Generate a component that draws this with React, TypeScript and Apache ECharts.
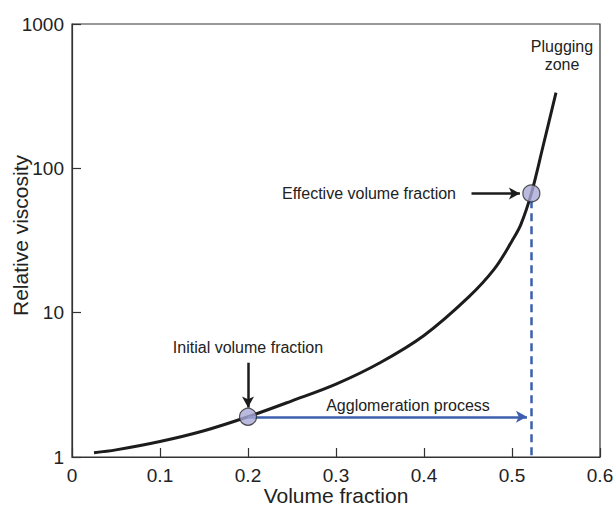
import React, { useEffect, useRef } from "react";
import * as echarts from "echarts";

// Viscosity curve: relative viscosity vs. volume fraction
const volumeFraction = [0.025, 0.05, 0.1, 0.15, 0.2, 0.25, 0.3, 0.35, 0.4, 0.45, 0.48, 0.5, 0.51, 0.522, 0.535, 0.55];
const relativeViscosity = [1.07, 1.12, 1.28, 1.52, 1.9, 2.45, 3.2, 4.5, 6.95, 12.7, 20.1, 31.4, 40.7, 67, 140, 335];

// Highlighted states
const initialPoint = [0.2, 1.9];
const effectivePoint = [0.522, 67];

// Annotation arrows (data coordinates)
const agglomerationArrow = [[0.2, 1.9], [0.517, 1.9]];
const initialArrow = [[0.2, 4.5], [0.2, 2.2]];
const effectiveArrow = [[0.454, 67], [0.509, 67]];
const effectiveDrop = [[0.522, 60], [0.522, 1]];

const xTicks = [0, 0.1, 0.2, 0.3, 0.4, 0.5, 0.6];
const yTicks = [1, 10, 100, 1000];

const FONT = "'Liberation Sans', Arial, Helvetica, sans-serif";
const BLUE = "#3d5fae";
const INK = "#1c1c1c";

export default function App() {
  const ref = useRef<HTMLDivElement>(null);

  useEffect(() => {
    if (!ref.current) return;
    const chart = echarts.init(ref.current, undefined, { renderer: "svg" });

    const curve = volumeFraction.map((x, i) => [x, relativeViscosity[i]]);
    const toCoord = (seg: number[][]) => [{ coord: seg[0] }, { coord: seg[1] }];

    chart.setOption({
      animation: false,
      grid: {
        left: 72,
        right: 16,
        top: 24,
        bottom: 50,
        outerBoundsMode: "none",
        containLabel: false,
        show: true,
        borderColor: "#333",
        borderWidth: 1.2,
        backgroundColor: "transparent",
      },
      xAxis: {
        type: "value",
        min: xTicks[0],
        max: xTicks[xTicks.length - 1],
        interval: 0.1,
        name: "Volume fraction",
        nameLocation: "middle",
        nameGap: 28,
        nameMoveOverlap: false,
        nameTextStyle: { fontFamily: FONT, fontSize: 21, color: "#222" },
        axisLine: { show: true, lineStyle: { color: "#333", width: 1.2 } },
        axisTick: { show: true, inside: true, length: 9, lineStyle: { color: "#333", width: 1.2 } },
        axisLabel: {
          fontFamily: FONT,
          fontSize: 19,
          color: "#222",
          margin: 9,
          formatter: (v: number) => String(Math.round(v * 10) / 10),
        },
        splitLine: { show: false },
      },
      yAxis: {
        type: "log",
        logBase: 10,
        min: yTicks[0],
        max: yTicks[yTicks.length - 1],
        name: "Relative viscosity",
        nameLocation: "middle",
        nameGap: 41,
        nameMoveOverlap: false,
        nameTextStyle: { fontFamily: FONT, fontSize: 21, color: "#222", padding: [0, 0, 0, 10] },
        axisLine: { show: true, lineStyle: { color: "#333", width: 1.2 } },
        axisTick: { show: true, inside: true, length: 9, lineStyle: { color: "#333", width: 1.2 } },
        axisLabel: {
          fontFamily: FONT,
          fontSize: 19,
          color: "#222",
          margin: 8,
          formatter: (v: number) => String(Math.round(v)),
        },
        minorTick: { show: false },
        splitLine: { show: false },
      },
      series: [
        {
          type: "line",
          data: curve,
          smooth: 0.35,
          showSymbol: false,
          symbol: "none",
          silent: true,
          lineStyle: { color: INK, width: 3 },
          z: 3,
          markLine: {
            silent: true,
            symbol: ["none", "arrow"],
            symbolSize: [9, 11],
            label: { show: false },
            emphasis: { disabled: true },
            lineStyle: { color: BLUE, width: 2.5, type: "solid" },
            data: [toCoord(agglomerationArrow)],
          },
        },
        {
          type: "line",
          data: [],
          silent: true,
          markLine: {
            silent: true,
            symbol: ["none", "none"],
            label: { show: false },
            emphasis: { disabled: true },
            lineStyle: { color: BLUE, width: 2.5, type: [8, 5] },
            data: [toCoord(effectiveDrop)],
          },
        },
        {
          type: "line",
          data: [],
          silent: true,
          markLine: {
            silent: true,
            symbol: ["none", "arrow"],
            symbolSize: [9, 11],
            label: { show: false },
            emphasis: { disabled: true },
            lineStyle: { color: INK, width: 2.5, type: "solid" },
            data: [toCoord(initialArrow), toCoord(effectiveArrow)],
          },
        },
        {
          type: "scatter",
          data: [initialPoint, effectivePoint],
          symbol: "circle",
          symbolSize: 17,
          silent: true,
          z: 5,
          itemStyle: { color: "#a9a9d6", borderColor: "#2a2a2a", borderWidth: 1.2 },
        },
      ],
      graphic: [
        {
          type: "text",
          x: 248,
          y: 347,
          style: {
            text: "Initial volume fraction",
            font: `16px ${FONT}`,
            fill: "#222",
            textAlign: "center",
            textVerticalAlign: "middle",
          },
        },
        {
          type: "text",
          x: 408,
          y: 405,
          style: {
            text: "Agglomeration process",
            font: `16px ${FONT}`,
            fill: "#222",
            textAlign: "center",
            textVerticalAlign: "middle",
          },
        },
        {
          type: "text",
          x: 456,
          y: 193,
          style: {
            text: "Effective volume fraction",
            font: `16px ${FONT}`,
            fill: "#222",
            textAlign: "right",
            textVerticalAlign: "middle",
          },
        },
        {
          type: "text",
          x: 562,
          y: 46,
          style: {
            text: "Plugging",
            font: `16px ${FONT}`,
            fill: "#222",
            textAlign: "center",
            textVerticalAlign: "middle",
          },
        },
        {
          type: "text",
          x: 562,
          y: 64,
          style: {
            text: "zone",
            font: `16px ${FONT}`,
            fill: "#222",
            textAlign: "center",
            textVerticalAlign: "middle",
          },
        },
      ],
    });

    return () => chart.dispose();
  }, []);

  return <div ref={ref} style={{ width: 616, height: 507, position: "absolute", left: 0, top: 0 }} />;
}
